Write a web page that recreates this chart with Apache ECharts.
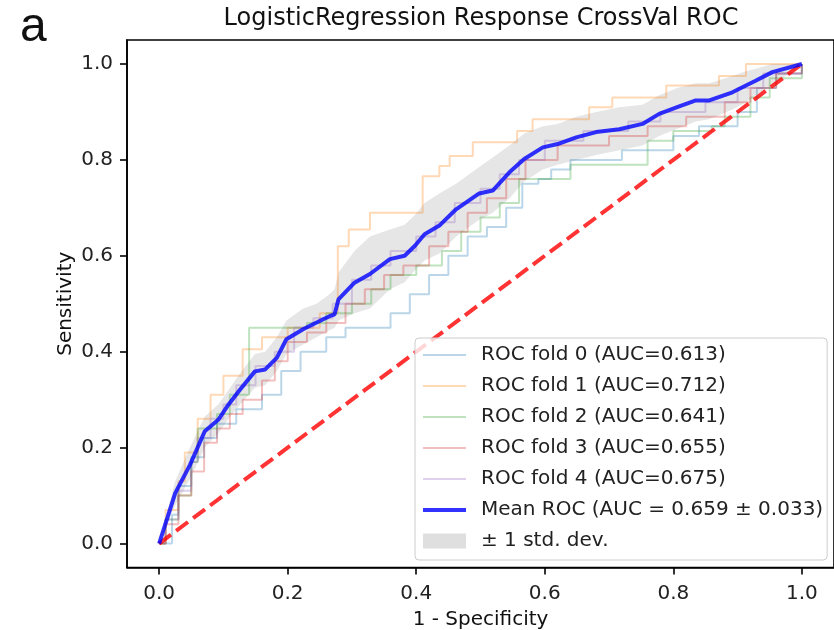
<!DOCTYPE html>
<html>
<head>
<meta charset="utf-8">
<script src="https://cdn.jsdelivr.net/npm/echarts@6/dist/echarts.min.js"></script>
<style>
html,body{margin:0;padding:0;background:#fff;}
#chart{width:834px;height:630px;}
</style>
</head>
<body>
<div id="chart"></div>
<script>
// ---- data ----
const panelLabel = 'a';
const chartTitle = 'LogisticRegression Response CrossVal ROC';
const xName = '1 - Specificity';
const yName = 'Sensitivity';
const xTicks = [0, 0.2, 0.4, 0.6, 0.8, 1.0];
const yTicks = [0, 0.2, 0.4, 0.6, 0.8, 1.0];

const foldNames = [
  'ROC fold 0 (AUC=0.613)',
  'ROC fold 1 (AUC=0.712)',
  'ROC fold 2 (AUC=0.641)',
  'ROC fold 3 (AUC=0.655)',
  'ROC fold 4 (AUC=0.675)'
];
const foldColors = [
  'rgba(31,119,180,0.3)',
  'rgba(255,127,14,0.3)',
  'rgba(44,160,44,0.3)',
  'rgba(214,39,40,0.3)',
  'rgba(148,103,189,0.3)'
];
// step curves: [fpr where tpr jumps, tpr after jump]
const fold0 = [[0,0],[0.02,0.06],[0.03,0.12],[0.05,0.18],[0.07,0.22],[0.09,0.25],[0.12,0.28],[0.16,0.31],[0.19,0.36],[0.22,0.40],[0.26,0.43],[0.29,0.45],[0.36,0.48],[0.39,0.52],[0.42,0.56],[0.45,0.60],[0.48,0.64],[0.51,0.66],[0.54,0.70],[0.565,0.75],[0.59,0.76],[0.61,0.78],[0.64,0.80],[0.72,0.82],[0.80,0.85],[0.84,0.87],[0.90,0.90],[0.93,0.95],[0.96,0.98],[1,1]];
const fold1 = [[0,0],[0.01,0.07],[0.03,0.13],[0.04,0.19],[0.06,0.26],[0.08,0.31],[0.10,0.35],[0.13,0.405],[0.16,0.43],[0.20,0.45],[0.25,0.48],[0.278,0.62],[0.295,0.655],[0.328,0.69],[0.41,0.766],[0.436,0.787],[0.452,0.808],[0.488,0.837],[0.557,0.86],[0.581,0.885],[0.669,0.91],[0.705,0.93],[0.789,0.955],[0.871,0.975],[0.913,1.0],[1,1]];
const fold2 = [[0,0],[0.01,0.05],[0.03,0.10],[0.05,0.17],[0.06,0.24],[0.09,0.27],[0.11,0.31],[0.14,0.45],[0.23,0.46],[0.26,0.48],[0.30,0.50],[0.33,0.53],[0.36,0.56],[0.40,0.58],[0.44,0.61],[0.47,0.65],[0.50,0.68],[0.53,0.71],[0.56,0.76],[0.64,0.79],[0.76,0.84],[0.80,0.86],[0.86,0.87],[0.88,0.89],[0.92,0.93],[0.95,0.97],[1,1]];
const fold3 = [[0,0],[0.01,0.04],[0.03,0.10],[0.05,0.15],[0.07,0.21],[0.09,0.24],[0.11,0.27],[0.13,0.30],[0.16,0.34],[0.18,0.38],[0.20,0.42],[0.23,0.44],[0.26,0.46],[0.29,0.50],[0.32,0.53],[0.35,0.56],[0.38,0.58],[0.42,0.62],[0.45,0.65],[0.48,0.69],[0.51,0.72],[0.54,0.76],[0.57,0.80],[0.62,0.83],[0.70,0.85],[0.76,0.87],[0.82,0.89],[0.88,0.92],[0.92,0.95],[0.96,0.98],[1,1]];
const fold4 = [[0,0],[0.01,0.05],[0.03,0.11],[0.05,0.17],[0.06,0.22],[0.08,0.26],[0.10,0.29],[0.12,0.33],[0.15,0.37],[0.18,0.40],[0.21,0.45],[0.24,0.47],[0.27,0.50],[0.30,0.55],[0.33,0.58],[0.36,0.61],[0.40,0.64],[0.43,0.67],[0.46,0.71],[0.50,0.74],[0.53,0.77],[0.56,0.80],[0.60,0.84],[0.66,0.86],[0.73,0.88],[0.78,0.90],[0.85,0.92],[0.90,0.95],[0.94,0.98],[1,1]];
const folds = [fold0, fold1, fold2, fold3, fold4];

const meanName = 'Mean ROC (AUC = 0.659 \u00b1 0.033)';
const bandName = '\u00b1 1 std. dev.';
const meanFpr = [0,0.025,0.048,0.071,0.092,0.108,0.126,0.149,0.165,0.183,0.198,0.224,0.245,0.265,0.273,0.279,0.304,0.328,0.359,0.382,0.398,0.413,0.436,0.462,0.498,0.519,0.545,0.568,0.597,0.62,0.649,0.68,0.716,0.752,0.778,0.806,0.835,0.856,0.892,0.913,0.928,0.954,1];
const meanTpr = [0,0.105,0.164,0.234,0.258,0.29,0.321,0.359,0.363,0.387,0.426,0.447,0.461,0.474,0.478,0.509,0.544,0.562,0.593,0.6,0.621,0.645,0.663,0.697,0.73,0.736,0.774,0.802,0.826,0.833,0.847,0.858,0.864,0.875,0.896,0.91,0.924,0.924,0.941,0.955,0.965,0.983,1];
const bandUpper = [0,0.13,0.20,0.265,0.29,0.32,0.355,0.395,0.40,0.43,0.465,0.49,0.50,0.52,0.53,0.565,0.61,0.64,0.655,0.665,0.685,0.71,0.73,0.75,0.785,0.805,0.83,0.855,0.87,0.875,0.89,0.90,0.91,0.915,0.935,0.95,0.96,0.96,0.975,0.985,0.99,1.0,1];
const bandLower = [0,0.08,0.135,0.20,0.23,0.26,0.29,0.325,0.33,0.36,0.395,0.415,0.43,0.445,0.45,0.465,0.48,0.49,0.53,0.545,0.57,0.59,0.605,0.64,0.675,0.69,0.72,0.755,0.78,0.79,0.80,0.81,0.82,0.83,0.85,0.865,0.88,0.885,0.905,0.92,0.935,0.955,1];
const chanceLine = [[0,0],[1,1]];

// ---- chart ----
const FONT = '"DejaVu Sans", sans-serif';

const series = [];
folds.forEach((f, k) => {
  series.push({
    type: 'line', name: foldNames[k], data: f, step: 'end',
    symbol: 'none', silent: true,
    color: foldColors[k],
    lineStyle: { color: foldColors[k], width: 2 }
  });
});
series.push({
  type: 'line', name: 'Chance', data: chanceLine, symbol: 'none', silent: true,
  color: 'rgba(255,0,0,0.8)',
  lineStyle: { color: 'rgba(255,0,0,0.8)', width: 4, type: [14.8, 6.4] }
});
series.push({
  type: 'line', name: meanName, data: meanFpr.map((x, i) => [x, meanTpr[i]]),
  symbol: 'none', silent: true,
  color: 'rgba(0,0,255,0.8)',
  lineStyle: { color: 'rgba(0,0,255,0.8)', width: 4 }
});
series.push({
  type: 'custom', name: bandName, coordinateSystem: 'cartesian2d',
  data: [[0, 0]], silent: true,
  itemStyle: { color: 'rgba(128,128,128,0.25)' },
  renderItem: function (params, api) {
    const pts = [];
    for (let i = 0; i < meanFpr.length; i++) pts.push(api.coord([meanFpr[i], bandUpper[i]]));
    for (let i = meanFpr.length - 1; i >= 0; i--) pts.push(api.coord([meanFpr[i], bandLower[i]]));
    return { type: 'polygon', shape: { points: pts }, style: { fill: 'rgba(128,128,128,0.2)', stroke: null } };
  }
});

const axisCommon = {
  type: 'value', min: -0.05, max: 1.05,
  axisLine: { show: true, onZero: false, lineStyle: { color: '#000', width: 1.6 } },
  axisTick: { show: true, inside: false, length: 7, lineStyle: { color: '#000', width: 1.6 } },
  splitLine: { show: false },
  nameLocation: 'middle',
  nameMoveOverlap: false,
  nameTextStyle: { fontFamily: FONT, fontSize: 20, color: '#111' }
};

const hideSymbol = { opacity: 0 };
const option = {
  animation: false,
  backgroundColor: '#fff',
  grid: { left: 127, top: 40, right: 0, bottom: 62.5, outerBoundsMode: 'none', containLabel: false, show: true, borderColor: '#000', borderWidth: 1.6, backgroundColor: 'transparent' },
  xAxis: Object.assign({}, axisCommon, {
    name: xName, nameGap: 42,
    axisTick: Object.assign({}, axisCommon.axisTick, { customValues: xTicks }),
    axisLabel: { customValues: xTicks, formatter: v => v.toFixed(1), margin: 16, fontFamily: FONT, fontSize: 20, color: '#222' }
  }),
  yAxis: Object.assign({}, axisCommon, {
    name: yName, nameGap: 51,
    axisTick: Object.assign({}, axisCommon.axisTick, { customValues: yTicks }),
    axisLabel: { customValues: yTicks, formatter: v => v.toFixed(1), margin: 14, fontFamily: FONT, fontSize: 20, color: '#222' }
  }),
  legend: {
    orient: 'vertical', left: 415, top: 338,
    selectedMode: false,
    itemWidth: 43, itemHeight: 15, itemGap: 9,
    padding: [6, 4, 8, 6],
    backgroundColor: 'rgba(255,255,255,0.8)',
    borderColor: '#cccccc', borderWidth: 1, borderRadius: 4,
    textStyle: { fontFamily: FONT, fontSize: 20, color: '#222', lineHeight: 22, padding: [0, 0, 0, 10] },
    data: foldNames.map(n => ({ name: n, itemStyle: hideSymbol }))
      .concat([
        { name: meanName, itemStyle: hideSymbol, lineStyle: { width: 4 } },
        { name: bandName, icon: 'rect' }
      ])
  },
  graphic: [
    { type: 'text', x: 481, y: 7, style: { text: chartTitle, font: '24px ' + FONT, fill: '#111', align: 'center', textAlign: 'center', verticalAlign: 'top', textVerticalAlign: 'top' } },
    { type: 'text', x: 20, y: 52, style: { text: panelLabel, font: '48px "Liberation Sans", Arial, sans-serif', fill: '#111', align: 'left', textAlign: 'left', verticalAlign: 'bottom', textVerticalAlign: 'bottom' } }
  ],
  series: series
};

const chart = echarts.init(document.getElementById('chart'), null, { renderer: 'canvas' });
chart.setOption(option);
</script>
</body>
</html>
